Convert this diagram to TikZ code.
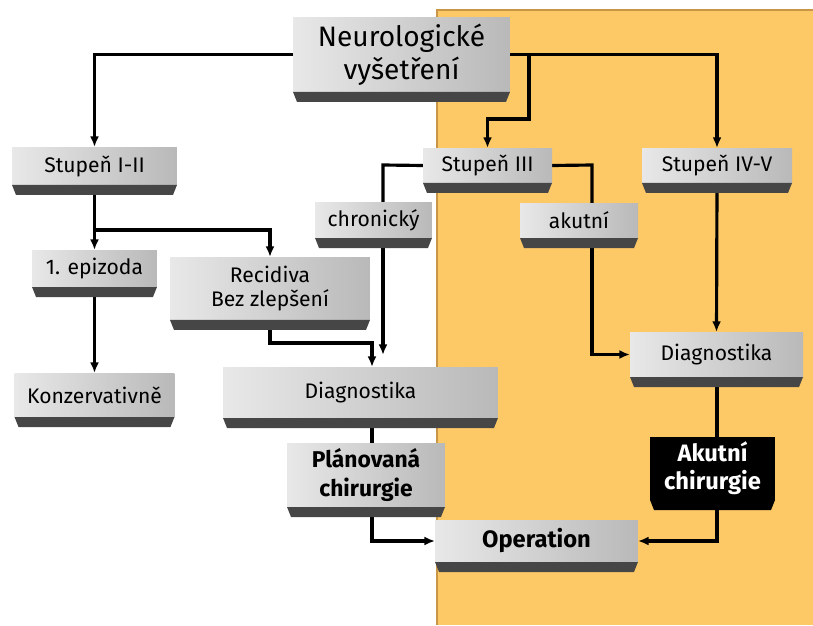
\documentclass[tikz,border=0pt]{standalone}
\usepackage{fontspec}
\setmainfont{Fira Sans}
\usepackage{xcolor}
\usetikzlibrary{arrows.meta,positioning,calc,backgrounds}

\definecolor{bgorange}{RGB}{253,201,102}
\definecolor{bgedge}{RGB}{200,150,70}

\begin{document}
\begin{tikzpicture}[
    % GLOBAL CFG
    x=0.02cm, y=-0.02cm,
    >={Latex[length=6pt,width=5pt]},
    font=\fontsize{12}{14}\selectfont,
    % Styles
    box/.style={% gray boxes
        rectangle,
        inner sep=0pt, outer sep=0pt,
        left color=gray!18, middle color=gray!4, right color=gray!55,
        align=center,
        },
    darkbox/.style={% the black one
        rectangle,
        inner sep=0pt, outer sep=0pt,
        fill=black, text=white,
        align=center,
        font=\fontsize{13.5}{16}\selectfont\bfseries,
        },
    bevel/.style={% bottom edge of the boxes
        fill=gray!55!black,
        },
    link/.style={% connectors
        line width=1.8pt,
        },
    ]

\useasboundingbox (0,0) rectangle (813,625);

% Draw the boxes
\node[box, minimum width=4.34cm, minimum height=1.5cm, font=\fontsize{16}{19}\selectfont] (neuro) at (401.5,54.5) {Neurologické\\vyšetření};
\node[box, minimum width=3.3cm, minimum height=0.76cm] (st12) at (94.5,166) {Stupeň I-II};
\node[box, minimum width=2.58cm, minimum height=0.7cm] (st3) at (487.5,165.5) {Stupeň III};
\node[box, minimum width=3.0cm, minimum height=0.7cm] (st45) at (717,165.5) {Stupeň IV-V};
\node[box, minimum width=2.34cm, minimum height=0.72cm] (chron) at (373.5,220) {chronický};
\node[box, minimum width=2.36cm, minimum height=0.7cm] (akut) at (579,220.5) {akutní};
\node[box, minimum width=2.5cm, minimum height=0.74cm] (epi) at (94.5,268.5) {1. epizoda};
\node[box, minimum width=4.0cm, minimum height=1.26cm] (recid) at (270,288.5) {Recidiva\\Bez zlepšení};
\node[box, minimum width=3.46cm, minimum height=0.9cm] (diagR) at (716.5,354.5) {Diagnostika};
\node[box, minimum width=3.2cm, minimum height=0.88cm] (konz) at (94.5,395) {Konzervativně};
\node[box, minimum width=5.5cm, minimum height=1.02cm] (diagM) at (360.5,392.5) {Diagnostika};
\node[box, minimum width=3.16cm, minimum height=1.28cm, font=\fontsize{13}{16}\selectfont\bfseries] (plan) at (366,475) {Plánovaná\\chirurgie};
\node[darkbox, minimum width=2.5cm, minimum height=1.26cm] (akchir) at (712.5,468.5) {Akutní\\chirurgie};
\node[box, minimum width=4.06cm, minimum height=0.84cm, font=\fontsize{13.5}{16}\selectfont\bfseries] (oper) at (536.5,541) {Operation};

% bevels under the boxes
\foreach \n in {neuro,st12,st3,st45,chron,akut,epi,recid,diagR,konz,diagM,plan,oper}
    \fill[bevel] (\n.south west) -- (\n.south east) -- ([shift={(-4,10)}]\n.south east) -- ([shift={(4,10)}]\n.south west) -- cycle;
\fill[black] (akchir.south west) -- (akchir.south east) -- ([shift={(-4,10)}]akchir.south east) -- ([shift={(4,10)}]akchir.south west) -- cycle;

% Junctions
\coordinate (j3) at (529,119);
\coordinate (j12) at (94.5,230);
\coordinate (j4) at (372,343);
\coordinate (j5) at (383,165);
\coordinate (e5) at (383,355);
\coordinate (j6) at (592,165);
\coordinate (j7) at (717,541);

\begin{scope}[on background layer]
% orange half
\fill[bgorange] (437,10) rectangle (813,625);
\draw[bgedge, line width=0.8pt] (437,625) -- (437,10) -- (813,10);

% Connectors
\draw[->, link] (neuro.west) -| (st12.north);
\draw[->, link] (neuro.east) -| (st45.north);
\draw[->, link] (neuro.east -| j3) -- (j3) -| (st3.north);

\draw[->, link] (st12.south) -- (epi.north);
\draw[->, link] (j12) -| (recid.north);
\draw[->, link] (epi.south) -- (konz.north);
\draw[->, link] (recid.south) |- (j4) -- (j4 |- diagM.north);

\draw[link] (st3.west) -- (j5) -- (j5 |- chron.north);
\draw[->, link] (j5 |- chron.south) -- (e5);
\draw[link] (st3.east) -- (j6) -- (j6 |- akut.north);
\draw[->, link] (j6 |- akut.south) |- (diagR.west);
\draw[->, link] (st45.south) -- (diagR.north);

\draw[link] (diagR.south -| j7) -- (akchir.north -| j7);
\draw[->, link] (akchir.south -| j7) -- (j7) -- (oper.east);
\draw[link] (diagM.south -| j4) -- (plan.north -| j4);
\draw[->, link] (plan.south -| j4) |- (oper.west);
\end{scope}

\end{tikzpicture}
\end{document}
